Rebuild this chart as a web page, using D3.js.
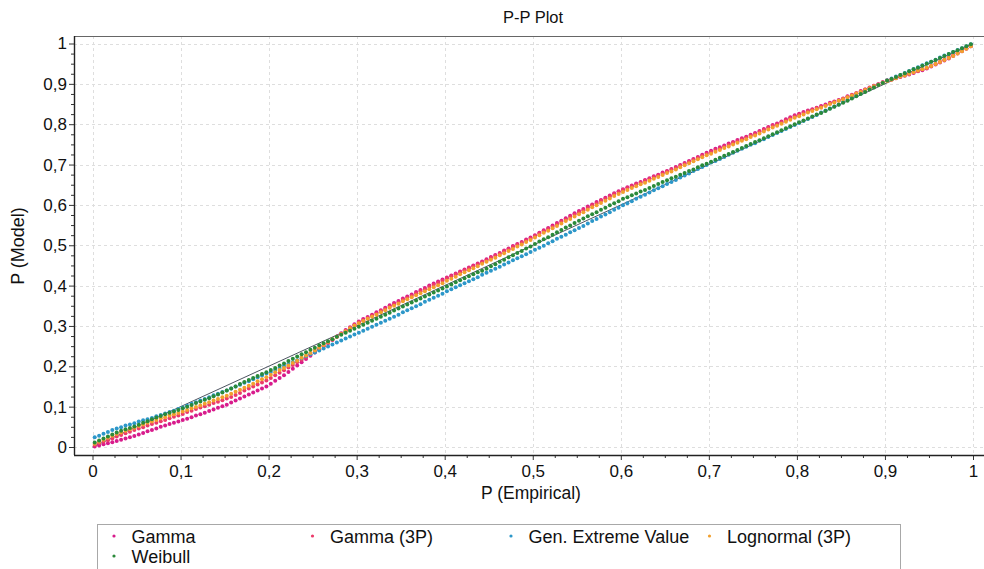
<!DOCTYPE html>
<html>
<head>
<meta charset="utf-8">
<script src="https://cdn.jsdelivr.net/npm/d3@7/dist/d3.min.js"></script>
<style>
  html, body { margin: 0; padding: 0; background: #fff; }
  svg { display: block; font-family: "Liberation Sans", Arial, sans-serif; }
</style>
</head>
<body>
<svg id="chart" width="984" height="569"></svg>
<script>
// ---------- DATA ----------
const title = "P-P Plot";
const xTitle = "P (Empirical)";
const yTitle = "P (Model)";
const seriesNames = ["Gamma", "Gamma (3P)", "Gen. Extreme Value", "Lognormal (3P)", "Weibull"];
const seriesColors = ["#D81B8C", "#EC3A6A", "#2C97C9", "#F2A02E", "#2A8A3A"];
const majorTicks = [0, 0.1, 0.2, 0.3, 0.4, 0.5, 0.6, 0.7, 0.8, 0.9, 1];
const nPoints = 200; // empirical plotting positions (i + 0.5) / n

const gamma = [.001,.004,.007,.009,.012,.015,.018,.021,.024,.027,.031,.035,.039,.042,.046,.050,.053,.057,.060,.063,
.067,.070,.074,.078,.081,.085,.089,.093,.097,.101,.105,.110,.115,.120,.125,.130,.135,.140,.145,.150,
.157,.164,.171,.178,.186,.194,.202,.210,.218,.226,.234,.242,.250,.258,.266,.274,.282,.290,.297,.304,
.311,.317,.322,.328,.334,.339,.345,.351,.357,.362,.368,.373,.378,.384,.389,.394,.400,.405,.410,.415,
.420,.425,.430,.435,.440,.445,.450,.455,.460,.465,.471,.476,.481,.487,.492,.498,.503,.508,.514,.519,
.525,.531,.537,.543,.549,.555,.561,.567,.573,.579,.585,.590,.596,.601,.607,.612,.618,.623,.629,.634,
.639,.644,.648,.653,.657,.662,.666,.671,.675,.680,.684,.689,.694,.699,.704,.709,.714,.719,.724,.729,
.734,.739,.743,.747,.752,.756,.761,.765,.769,.774,.778,.783,.788,.793,.798,.802,.807,.812,.817,.822,
.826,.830,.834,.837,.841,.845,.849,.853,.856,.860,.864,.869,.873,.877,.882,.886,.891,.895,.899,.904,
.908,.911,.914,.917,.920,.923,.927,.931,.934,.938,.943,.948,.953,.958,.963,.969,.975,.981,.987,.993];

const gamma3P = [.005,.009,.013,.017,.021,.026,.030,.034,.038,.042,.046,.049,.053,.057,.060,.064,.067,.071,.075,.078,
.082,.087,.090,.094,.098,.101,.105,.109,.112,.116,.120,.124,.129,.134,.140,.145,.150,.155,.160,.165,
.171,.178,.184,.190,.197,.203,.210,.216,.222,.229,.236,.243,.251,.258,.265,.273,.280,.288,.295,.302,
.309,.314,.320,.326,.331,.337,.342,.348,.354,.359,.365,.370,.375,.381,.386,.391,.397,.402,.407,.412,
.418,.423,.428,.433,.438,.443,.448,.453,.458,.463,.469,.474,.479,.485,.490,.496,.501,.506,.512,.517,
.523,.529,.535,.540,.546,.552,.558,.564,.570,.576,.582,.587,.593,.599,.604,.610,.615,.621,.627,.632,
.637,.642,.646,.651,.655,.660,.664,.669,.673,.678,.683,.687,.692,.697,.702,.707,.712,.717,.722,.727,
.731,.736,.740,.745,.749,.754,.758,.763,.767,.772,.776,.781,.786,.791,.796,.800,.805,.810,.815,.820,
.824,.828,.832,.836,.840,.843,.847,.851,.855,.859,.863,.868,.872,.877,.881,.886,.890,.895,.899,.904,
.908,.911,.915,.918,.922,.925,.929,.932,.936,.939,.944,.949,.955,.960,.966,.971,.977,.982,.988,.993];

const genExtremeValue = [.024,.028,.033,.037,.042,.046,.049,.053,.056,.059,.063,.066,.069,.072,.076,.079,.083,.087,.090,.094,
.098,.102,.107,.111,.115,.119,.123,.128,.132,.136,.140,.145,.150,.154,.159,.163,.168,.173,.177,.182,
.186,.191,.196,.201,.206,.210,.215,.220,.225,.230,.234,.239,.244,.249,.254,.259,.264,.269,.274,.279,
.283,.288,.293,.298,.303,.308,.313,.318,.323,.328,.334,.339,.344,.349,.354,.360,.365,.370,.375,.380,
.386,.391,.396,.401,.406,.411,.416,.421,.427,.432,.437,.442,.447,.452,.457,.463,.468,.473,.478,.483,
.489,.494,.499,.505,.510,.516,.521,.526,.532,.537,.543,.548,.554,.560,.565,.571,.576,.582,.588,.593,
.599,.604,.609,.615,.620,.625,.631,.636,.641,.646,.652,.657,.662,.668,.673,.678,.684,.689,.694,.699,
.705,.709,.714,.719,.724,.729,.734,.739,.744,.749,.753,.759,.763,.768,.773,.778,.783,.788,.793,.798,
.803,.808,.813,.818,.823,.829,.834,.839,.844,.849,.855,.860,.866,.871,.876,.882,.887,.893,.898,.903,
.908,.913,.918,.922,.927,.932,.937,.941,.946,.951,.955,.960,.965,.970,.974,.979,.984,.988,.993,.998];

const lognormal3P = [.008,.013,.018,.023,.028,.032,.036,.040,.044,.048,.052,.056,.060,.063,.067,.071,.074,.078,.081,.084,
.088,.092,.096,.099,.103,.107,.111,.115,.119,.123,.127,.132,.137,.142,.147,.152,.157,.163,.168,.173,
.179,.185,.191,.196,.202,.208,.214,.221,.227,.233,.239,.246,.253,.260,.267,.273,.280,.287,.294,.301,
.307,.312,.318,.323,.328,.334,.339,.345,.350,.355,.361,.366,.371,.376,.381,.386,.391,.396,.401,.406,
.412,.417,.422,.428,.433,.438,.443,.448,.454,.459,.464,.469,.475,.480,.486,.491,.497,.502,.508,.513,
.519,.525,.531,.536,.542,.548,.554,.560,.565,.571,.577,.582,.588,.594,.599,.605,.610,.616,.622,.627,
.632,.637,.642,.646,.651,.655,.660,.665,.669,.674,.679,.683,.688,.693,.698,.703,.708,.713,.718,.723,
.727,.732,.736,.741,.745,.750,.754,.759,.763,.768,.772,.777,.782,.787,.792,.796,.801,.806,.811,.816,
.820,.824,.829,.833,.837,.841,.845,.850,.854,.858,.862,.867,.871,.876,.880,.885,.889,.894,.898,.903,
.907,.910,.914,.918,.921,.925,.929,.933,.936,.940,.944,.949,.954,.959,.964,.969,.975,.981,.987,.993];

const weibull = [.011,.016,.021,.026,.031,.036,.040,.044,.047,.051,.055,.060,.064,.069,.073,.077,.081,.085,.088,.092,
.096,.100,.104,.109,.113,.117,.121,.126,.130,.135,.140,.145,.150,.156,.161,.166,.171,.176,.181,.185,
.191,.196,.202,.207,.213,.219,.224,.230,.235,.241,.246,.252,.257,.262,.267,.273,.278,.283,.288,.293,
.298,.303,.308,.313,.318,.323,.328,.333,.338,.343,.348,.353,.358,.363,.368,.373,.378,.383,.388,.393,
.398,.403,.408,.413,.418,.423,.428,.433,.437,.442,.448,.453,.459,.464,.470,.475,.481,.486,.492,.497,
.503,.509,.515,.520,.526,.532,.538,.544,.549,.555,.561,.566,.572,.577,.582,.588,.593,.599,.604,.609,
.615,.619,.624,.628,.633,.637,.642,.647,.652,.657,.661,.666,.670,.675,.679,.684,.688,.693,.698,.702,
.707,.712,.717,.722,.726,.731,.736,.741,.746,.751,.756,.760,.765,.770,.775,.780,.785,.790,.795,.800,
.805,.809,.814,.819,.824,.828,.833,.838,.843,.848,.853,.858,.864,.869,.875,.880,.886,.891,.897,.902,
.908,.912,.917,.922,.926,.931,.936,.940,.945,.950,.955,.959,.964,.969,.974,.979,.983,.988,.993,.998];

const seriesValues = [gamma, gamma3P, genExtremeValue, lognormal3P, weibull];
const pEmpirical = d3.range(nPoints).map(i => (i + 0.5) / nPoints);
const minorTicks = d3.range(0, 41).map(i => i / 40).filter(v => Math.abs(v * 10 - Math.round(v * 10)) > 1e-6);

// ---------- LAYOUT ----------
const frame = { left: 74, right: 984, top: 36, bottom: 455 };
const x = d3.scaleLinear().domain([0, 1]).range([92.5, 973]);
const y = d3.scaleLinear().domain([0, 1]).range([447, 43.5]);
const locale = d3.formatLocale({ decimal: ",", thousands: ".", grouping: [3], currency: ["", ""] });
const fmt = locale.format("~g");

const svg = d3.select("#chart");
svg.append("rect").attr("width", 984).attr("height", 569).attr("fill", "#fff");

// grid
const grid = svg.append("g").attr("stroke", "#dedede").attr("stroke-width", 1).attr("stroke-dasharray", "3,3");
grid.selectAll(".gx").data(majorTicks).join("line")
  .attr("x1", d => Math.round(x(d)) + 0.5).attr("x2", d => Math.round(x(d)) + 0.5)
  .attr("y1", frame.top).attr("y2", frame.bottom);
grid.selectAll(".gy").data(majorTicks).join("line")
  .attr("y1", d => Math.round(y(d)) + 0.5).attr("y2", d => Math.round(y(d)) + 0.5)
  .attr("x1", frame.left).attr("x2", frame.right);

// reference diagonal
svg.append("line")
  .attr("x1", x(0)).attr("y1", y(0)).attr("x2", x(1)).attr("y2", y(1))
  .attr("stroke", "#3a4250").attr("stroke-width", 0.9);

// points
seriesValues.forEach((vals, si) => {
  svg.append("g").attr("fill", seriesColors[si])
    .selectAll("circle").data(vals).join("circle")
    .attr("cx", (d, i) => x(pEmpirical[i]))
    .attr("cy", d => y(d))
    .attr("r", 2);
});

// axes (ticks + labels)
const xAxis = d3.axisBottom(x).tickValues(majorTicks).tickFormat(fmt).tickSize(5).tickPadding(5);
const xMinor = d3.axisBottom(x).tickValues(minorTicks).tickFormat("").tickSize(3);
const yAxis = d3.axisLeft(y).tickValues(majorTicks).tickFormat(fmt).tickSize(5).tickPadding(2);
const yMinor = d3.axisLeft(y).tickValues(minorTicks).tickFormat("").tickSize(3);

const gx = svg.append("g").attr("transform", `translate(0,${frame.bottom})`).call(xAxis);
svg.append("g").attr("transform", `translate(0,${frame.bottom})`).call(xMinor).select(".domain").remove();
const gy = svg.append("g").attr("transform", `translate(${frame.left},0)`).call(yAxis);
svg.append("g").attr("transform", `translate(${frame.left},0)`).call(yMinor).select(".domain").remove();
[gx, gy].forEach(g => {
  g.select(".domain").remove();
  g.selectAll("text").attr("font-size", 17).attr("fill", "#111").attr("font-family", "Liberation Sans, Arial, sans-serif");
});
svg.selectAll(".tick line").attr("stroke", "#333");

// frame lines
svg.append("line").attr("x1", frame.left).attr("x2", frame.right).attr("y1", frame.top + 0.5).attr("y2", frame.top + 0.5)
  .attr("stroke", "#666").attr("stroke-width", 1);
svg.append("line").attr("x1", frame.left + 0.5).attr("x2", frame.left + 0.5).attr("y1", frame.top).attr("y2", frame.bottom)
  .attr("stroke", "#222").attr("stroke-width", 1.4);
svg.append("line").attr("x1", frame.left).attr("x2", frame.right).attr("y1", frame.bottom + 0.5).attr("y2", frame.bottom + 0.5)
  .attr("stroke", "#222").attr("stroke-width", 1.4);

// titles
svg.append("text").attr("x", 533).attr("y", 23).attr("text-anchor", "middle")
  .attr("font-size", 16.5).attr("fill", "#111").text(title);
svg.append("text").attr("x", 531).attr("y", 499).attr("text-anchor", "middle")
  .attr("font-size", 17.5).attr("fill", "#111").text(xTitle);
svg.append("text").attr("transform", "translate(24,246) rotate(-90)").attr("text-anchor", "middle")
  .attr("font-size", 18).attr("fill", "#111").text(yTitle);

// legend
svg.append("rect").attr("x", 97.5).attr("y", 524.5).attr("width", 803).attr("height", 60)
  .attr("fill", "#fff").attr("stroke", "#a8a8a8").attr("stroke-width", 1);
const legend = svg.append("g");
seriesNames.forEach((name, i) => {
  const col = i % 4, row = Math.floor(i / 4);
  const lx = 114 + col * 198.5, ly = 536 + row * 20;
  legend.append("circle").attr("cx", lx).attr("cy", ly).attr("r", 1.6).attr("fill", seriesColors[i]);
  legend.append("text").attr("x", lx + 17.5).attr("y", ly + 6.5)
    .attr("font-size", 18).attr("fill", "#111").text(name);
});
</script>
</body>
</html>
